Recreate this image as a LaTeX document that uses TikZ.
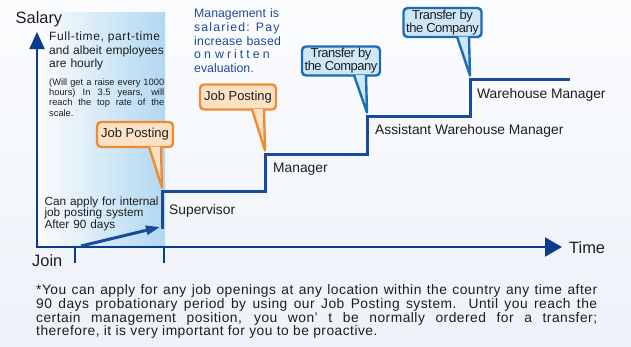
\documentclass[tikz,border=0pt]{standalone}
\usepackage{fontspec}
\setmainfont{Liberation Sans}
\newfontfamily\notefont{Liberation Sans}[LetterSpace=3.5]
\usetikzlibrary{arrows.meta,calc}
\definecolor{navy}{HTML}{0D3B8C}
\definecolor{stepblue}{HTML}{1A4A9E}
\definecolor{ink}{HTML}{1E1E1E}
\definecolor{notecol}{HTML}{1E4A9A}
\definecolor{panel}{HTML}{B2D8F2}
\definecolor{bgtop}{HTML}{FBFCFE}
\definecolor{bgbot}{HTML}{EDF2F9}
\definecolor{orangeline}{HTML}{EE8B33}
\definecolor{orangefill}{HTML}{FDE1C4}
\definecolor{callline}{HTML}{1C6CB4}
\definecolor{callfill}{HTML}{CDE6F8}
\begin{document}
\begin{tikzpicture}[x=1pt,y=-1pt,
  lbl/.style={anchor=base west,inner sep=0pt,text=ink,font=\fontsize{13.8}{14}\selectfont},
  axlbl/.style={anchor=base west,inner sep=0pt,text=ink,font=\fontsize{16.4}{18}\selectfont},
  para/.style={anchor=base west,inner sep=0pt,text=ink,text width=125pt,align=left},
  stepline/.style={draw=stepblue,line width=3pt,line join=miter},
  orangecall/.style={draw=orangeline,fill=orangefill,line width=2.4pt},
  bluecall/.style={draw=callline,fill=callfill,line width=2.4pt},
  jpbox/.style={orangecall,rounded corners=4pt,minimum width=76pt,minimum height=25pt,inner sep=0pt,text=ink,font=\fontsize{13}{13}\selectfont},
  tcbox/.style={bluecall,rounded corners=4pt,minimum width=78pt,minimum height=29pt,inner sep=0pt,align=center,text=ink,font=\fontsize{13}{11}\selectfont\addfontfeature{LetterSpace=-4}}]
\useasboundingbox(0,0)rectangle(631,346);
\shade[top color=bgtop,bottom color=bgbot](0,0)rectangle(631,346);
\shade[left color=bgtop,right color=panel](37,12)rectangle(165,247);
\node[axlbl](salary)at(15.5,23.5){Salary};
\node[axlbl](time)at(569,253){Time};
\node[axlbl](join)at(32,266.5){Join};
\node[para,font=\fontsize{12}{13.5}\selectfont](hourly)at(49,40.5){{\addfontfeature{LetterSpace=5}Full-time, part-time}\\and albeit employees\\are hourly};
\node[para,text width=115pt,align=justify,font=\fontsize{9.3}{10.4}\selectfont](raise)at(49,85){(Will get a raise every 1000\linebreak hours) In 3.5 years, will\linebreak reach the top rate of the\linebreak scale.};
\node[para,text=notecol,font=\fontsize{12.3}{13.8}\selectfont](salaried)at(194,17.5){Management is\\{\addfontfeature{LetterSpace=9.3}salaried: Pay}\\{\addfontfeature{LetterSpace=2}increase based}\\{\addfontfeature{LetterSpace=25}on written}\\evaluation.};
\node[para,font=\fontsize{11.8}{11.7}\selectfont](apply)at(44.3,205){Can apply for internal\\job posting system\\After 90 days};
\node[para,text width=561pt,align=justify,font=\notefont\fontsize{13.8}{11.9}\selectfont](note)at(36,294.3){*You can apply for any job openings at any location within the country any time after\linebreak 90 days probationary period by using our Job Posting system. Until you reach the\linebreak certain management position, you won’ t be normally ordered for a transfer;\linebreak therefore, it is very important for you to be proactive.};
\coordinate(o)at(37,247);\coordinate(ytip)at(37,32);\coordinate(xtip)at(562,247);
\coordinate(tj)at(75,247);\coordinate(ta)at(164,247);
\draw[navy,line width=2pt](tj)--++(0,16);\draw[navy,line width=2pt](ta)--++(0,16);
\draw[navy,line width=2.2pt,line join=miter,{Triangle[length=17pt,width=15pt]}-{Triangle[length=17pt,width=19pt]}](ytip)--(o)--(xtip);
\coordinate(d0)at(81,246);\coordinate(d1)at(160,227);
\draw[stepline,-{Triangle[length=14pt,width=9pt]}](d0)--(d1);
\coordinate(s0)at(162,229);\coordinate(c1)at(162,191);\coordinate(c2)at(265,154);
\coordinate(c3)at(367,116);\coordinate(c4)at(470,79);\coordinate(s9)at(570,79);
\draw[stepline](s0)--(c1)-|(c2)-|(c3)-|(c4)--(s9);
\node[lbl](sup)at(169,214){Supervisor};
\node[lbl](mgr)at(273,172){Manager};
\node[lbl](awm)at(375,134){Assistant Warehouse Manager};
\node[lbl](wm)at(477,98){Warehouse Manager};
\node[jpbox](jp1)at(135,134.5){Job Posting};
\node[jpbox](jp2)at(238,97){Job Posting};
\node[tcbox](tc1)at(341,61){Transfer by\\the Company};
\node[tcbox](tc2)at(442.5,22.5){Transfer by\\the Company};
\foreach \b/\c/\s in {jp1/c1/orangecall,jp2/c2/orangecall,tc1/c3/bluecall,tc2/c4/bluecall}
  \filldraw[\s,line join=round]($(\c|-\b.south)+(-13,-1.6)$)--($(\c)+(0,-3.5)$)--($(\c|-\b.south)+(-1,-1.6)$);
\end{tikzpicture}
\end{document}
